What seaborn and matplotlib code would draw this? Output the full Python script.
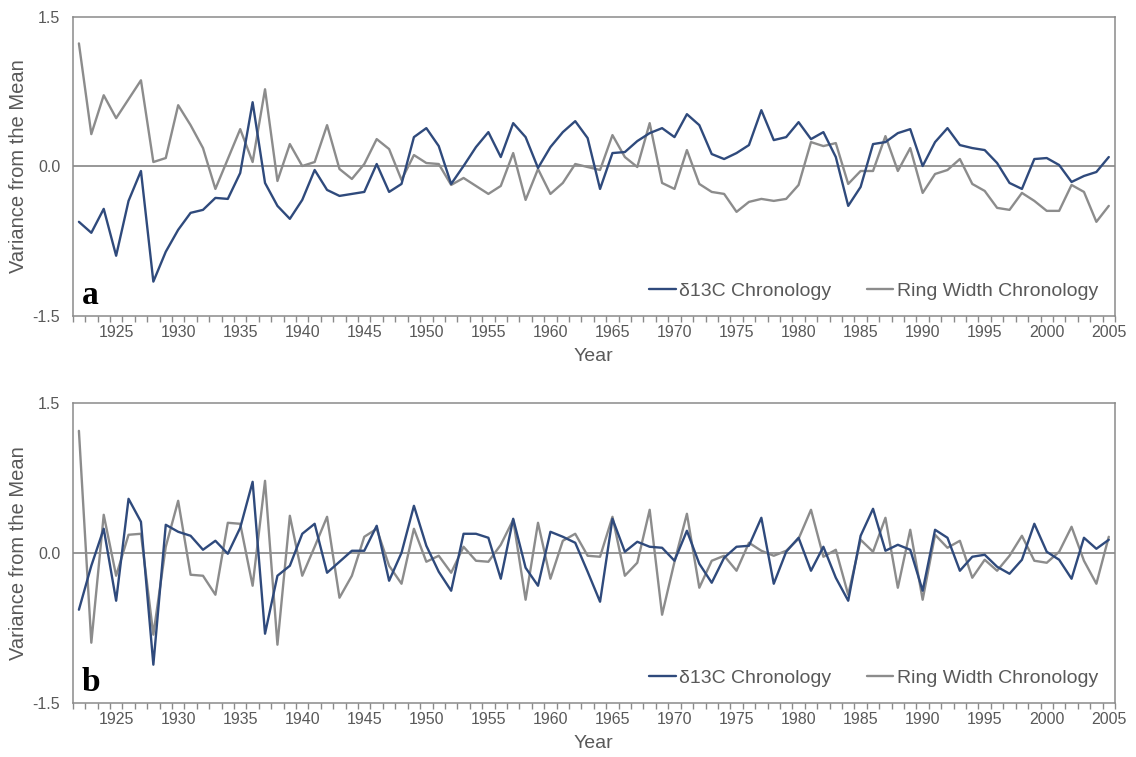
import numpy as np
import pandas as pd
import matplotlib
matplotlib.use("Agg")
import matplotlib.pyplot as plt
import seaborn as sns
from matplotlib.ticker import FixedLocator, NullFormatter

# Years of the chronologies
years = list(range(1922, 2006))

# Panel a: chronologies as deviations from the mean
a_d13c = [-0.56, -0.67, -0.43, -0.90, -0.35, -0.05, -1.16, -0.86, -0.64, -0.47, -0.44,
          -0.32, -0.33, -0.07, 0.64, -0.17, -0.40, -0.53, -0.34, -0.04, -0.24, -0.30,
          -0.28, -0.26, 0.02, -0.26, -0.18, 0.29, 0.38, 0.20, -0.18, 0.00, 0.19,
          0.34, 0.09, 0.43, 0.29, -0.02, 0.19, 0.34, 0.45, 0.28, -0.23,
          0.13, 0.14, 0.25, 0.33, 0.38, 0.29, 0.52, 0.41, 0.12, 0.07, 0.13,
          0.21, 0.56, 0.26, 0.29, 0.44, 0.27, 0.34, 0.09, -0.40, -0.21,
          0.22, 0.24, 0.33, 0.37, 0.00, 0.24, 0.38, 0.21, 0.18, 0.16,
          0.03, -0.17, -0.23, 0.07, 0.08, 0.01, -0.16, -0.10, -0.06, 0.09]
a_ring = [1.23, 0.32, 0.71, 0.48, 0.67, 0.86, 0.04, 0.08, 0.61, 0.41, 0.18,
          -0.23, 0.07, 0.37, 0.04, 0.77, -0.15, 0.22, 0.00, 0.04, 0.41, -0.03,
          -0.13, 0.02, 0.27, 0.17, -0.14, 0.11, 0.03, 0.02, -0.19, -0.12, -0.20,
          -0.28, -0.20, 0.13, -0.34, -0.03, -0.28, -0.17, 0.02, -0.01, -0.04,
          0.31, 0.09, -0.01, 0.43, -0.17, -0.23, 0.16, -0.18, -0.26, -0.28, -0.46,
          -0.36, -0.33, -0.35, -0.33, -0.19, 0.24, 0.20, 0.23, -0.18, -0.05,
          -0.05, 0.30, -0.05, 0.18, -0.27, -0.08, -0.04, 0.07, -0.18, -0.25,
          -0.42, -0.44, -0.27, -0.35, -0.45, -0.45, -0.19, -0.26, -0.56, -0.40]

# Panel b: detrended chronologies
b_d13c = [-0.57, -0.13, 0.24, -0.48, 0.54, 0.31, -1.12, 0.28, 0.21, 0.17, 0.03,
          0.12, -0.01, 0.25, 0.71, -0.81, -0.23, -0.13, 0.19, 0.29, -0.20, -0.09,
          0.02, 0.02, 0.27, -0.28, 0.00, 0.47, 0.07, -0.19, -0.38, 0.19, 0.19,
          0.15, -0.26, 0.34, -0.15, -0.33, 0.21, 0.16, 0.10, -0.19, -0.49,
          0.34, 0.01, 0.11, 0.06, 0.05, -0.08, 0.22, -0.11, -0.30, -0.05, 0.06,
          0.07, 0.35, -0.31, 0.01, 0.15, -0.18, 0.06, -0.25, -0.48, 0.17,
          0.44, 0.02, 0.08, 0.03, -0.38, 0.23, 0.15, -0.18, -0.04, -0.02,
          -0.14, -0.21, -0.07, 0.29, 0.01, -0.07, -0.26, 0.15, 0.04, 0.13]
b_ring = [1.22, -0.90, 0.38, -0.23, 0.18, 0.19, -0.82, 0.06, 0.52, -0.22, -0.23,
          -0.42, 0.30, 0.29, -0.33, 0.72, -0.92, 0.37, -0.23, 0.06, 0.36, -0.45,
          -0.23, 0.16, 0.24, -0.13, -0.31, 0.24, -0.09, -0.03, -0.20, 0.06, -0.08,
          -0.09, 0.08, 0.33, -0.47, 0.30, -0.26, 0.12, 0.19, -0.03, -0.04,
          0.36, -0.23, -0.10, 0.43, -0.62, -0.09, 0.39, -0.35, -0.08, -0.03, -0.18,
          0.10, 0.02, -0.03, 0.02, 0.14, 0.43, -0.04, 0.03, -0.42, 0.13,
          0.01, 0.35, -0.35, 0.23, -0.47, 0.18, 0.05, 0.12, -0.25, -0.07,
          -0.18, -0.03, 0.17, -0.08, -0.10, 0.01, 0.26, -0.08, -0.31, 0.16]

series_names = ["δ13C Chronology", "Ring Width Chronology"]
year_labels = [str(y) for y in range(1925, 2006, 5)]
y_ticks = [-1.5, 0.0, 1.5]
panel_letters = ["a", "b"]

sns.set_theme(style="white")
plt.rcParams["font.family"] = ["Liberation Sans", "DejaVu Sans"]

palette = {series_names[0]: "#2f4a7c", series_names[1]: "#8c8c8c"}
text_grey = "#595959"
frame_grey = "#8a8a8a"

fig = plt.figure(figsize=(11.36, 7.57), dpi=100)
ax_a = fig.add_axes([0.064, 0.5832, 0.9175, 0.395])
ax_b = fig.add_axes([0.064, 0.0718, 0.9175, 0.396])

panels = [(ax_a, a_d13c, a_ring), (ax_b, b_d13c, b_ring)]

for (ax, d13c, ring), letter in zip(panels, panel_letters):
    df = pd.DataFrame({
        "Year": years * 2,
        "Value": d13c + ring,
        "Series": [series_names[0]] * len(years) + [series_names[1]] * len(years),
    })
    ax.axhline(0, color="#8f8f8f", lw=1.3, zorder=1)
    sns.lineplot(data=df, x="Year", y="Value", hue="Series", palette=palette,
                 hue_order=[series_names[1], series_names[0]],
                 linewidth=1.7, ax=ax, zorder=3)

    ax.set_xlim(1921.5, 2005.5)
    ax.set_ylim(-1.5, 1.5)
    ax.set_yticks(y_ticks)
    ax.set_yticklabels([f"{v:.1f}" for v in y_ticks])
    ax.set_xticks([int(s) for s in year_labels])
    ax.set_xticklabels(year_labels)
    ax.xaxis.set_minor_locator(FixedLocator(np.arange(1921.5, 2006, 1.0)))
    ax.xaxis.set_minor_formatter(NullFormatter())
    ax.tick_params(axis="x", which="major", length=0, pad=6.5,
                   labelsize=11.5, labelcolor=text_grey)
    ax.tick_params(axis="x", which="minor", length=4, width=1,
                   color=frame_grey, direction="out", bottom=True)
    ax.tick_params(axis="y", length=0, pad=9, labelsize=11.5, labelcolor=text_grey)

    for side, sp in ax.spines.items():
        sp.set_color(frame_grey)
        sp.set_linewidth(1.1)

    ax.set_xlabel("Year", fontsize=14, color=text_grey, labelpad=6)
    ax.set_ylabel("Variance from the Mean", fontsize=14.5, color=text_grey, labelpad=3)

    handles, labels = ax.get_legend_handles_labels()
    order = [labels.index(n) for n in series_names]
    ax.legend([handles[i] for i in order], [labels[i] for i in order],
              loc="center right", bbox_to_anchor=(0.9837, 0.083), ncol=2,
              frameon=False, fontsize=14, handlelength=1.35, handletextpad=0.2,
              columnspacing=1.8, borderaxespad=0, borderpad=0,
              labelcolor=text_grey)

    ax.text(0.0085, 0.038, letter, transform=ax.transAxes, fontsize=24,
            fontweight="bold", family="Liberation Serif", color="black",
            ha="left", va="baseline")

fig.savefig("out.png", dpi=100)
